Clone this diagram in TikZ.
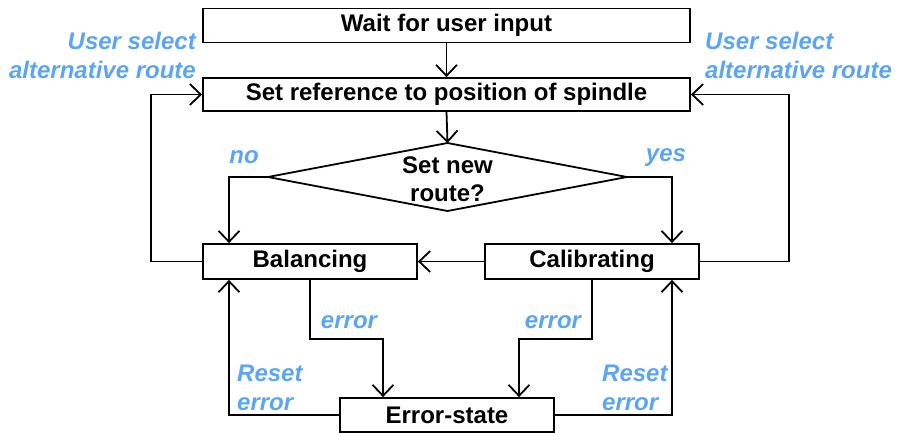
\documentclass[tikz,border=0pt]{standalone}
\usepackage{fontspec}
\setmainfont{Liberation Sans}
\usetikzlibrary{arrows.meta}
\definecolor{lblue}{RGB}{92,165,240}
\begin{document}
\begin{tikzpicture}[x=1pt,y=-1pt,
  box/.style={draw,line width=1.8pt,inner sep=0pt,font=\fontsize{24}{28}\selectfont\bfseries},
  dtxt/.style={inner sep=0pt,align=center,font=\fontsize{24}{28}\selectfont\bfseries},
  conn/.style={line width=1.8pt},
  arr/.style={conn,-{Straight Barb[length=11pt,width=21pt,line width=1.8pt]}},
  lab/.style={text=lblue,inner sep=0pt,font=\fontsize{24}{29}\selectfont\bfseries\itshape}]
\useasboundingbox (0,0) rectangle (898,433);
\node[box,minimum width=487,minimum height=34] (wait) at (446.5,25.5) {Wait for user input};
\node[box,minimum width=487,minimum height=33] (setref) at (446.5,94.5) {Set reference to position of spindle};
\coordinate (dN) at (447.5,143);
\coordinate (dS) at (447.5,211);
\coordinate (dW) at (268,177);
\coordinate (dE) at (627,177);
\draw[conn,line join=miter] (dN) -- (dE) -- (dS) -- (dW) -- cycle;
\node[dtxt] (dia) at (447.5,179) {Set new\\route?};
\node[box,minimum width=214,minimum height=35] (bal) at (310,261.5) {Balancing};
\node[box,minimum width=214,minimum height=35] (cal) at (592,261.5) {Calibrating};
\node[box,minimum width=214,minimum height=34] (err) at (447,415) {Error-state};

\draw[arr] (wait.south) -- (setref.north);
\draw[arr] (setref.south) -- (dN);
\draw[arr] (dW) -| ([xshift=-81]bal.north);
\draw[arr] (dE) -| ([xshift=80]cal.north);
\draw[arr] (bal.west) -- ++(-51,0) |- (setref.west);
\draw[arr] (cal.east) -- ++(89,0) |- (setref.east);
\draw[arr] (cal.west) -- (bal.east);
\draw[arr] (bal.south) -- ++(0,59) -| ([xshift=-64]err.north);
\draw[arr] (cal.south) -- ++(0,59) -| ([xshift=72]err.north);
\draw[arr] (err.west) -| ([xshift=-81]bal.south);
\draw[arr] (err.east) -| ([xshift=80]cal.south);

\node[lab,anchor=east,align=right] (ul) at (196,55) {User select\\alternative route};
\node[lab,anchor=west,align=left] (ur) at (705,55) {User select\\alternative route};
\node[lab] (no) at (244,157) {no};
\node[lab] (yes) at (666,158) {yes};
\node[lab] (e1) at (349,322) {error};
\node[lab] (e2) at (553,322) {error};
\node[lab,anchor=west,align=left] (r1) at (237,388) {Reset\\error};
\node[lab,anchor=west,align=left] (r2) at (602,388) {Reset\\error};
\end{tikzpicture}
\end{document}
